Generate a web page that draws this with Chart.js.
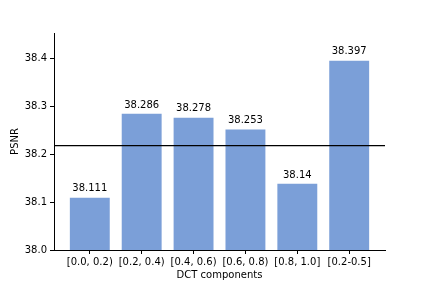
<!DOCTYPE html>
<html>
<head>
<meta charset="utf-8">
<script src="https://cdn.jsdelivr.net/npm/chart.js@4/dist/chart.umd.min.js"></script>
<style>
html,body{margin:0;padding:0;background:#fff;}
#wrap{width:428px;height:286px;}
</style>
</head>
<body>
<div id="wrap"><canvas id="c" width="428" height="286"></canvas></div>
<script>
const categories = ["[0.0, 0.2)", "[0.2, 0.4)", "[0.4, 0.6)", "[0.6, 0.8)", "[0.8, 1.0]", "[0.2-0.5]"];
const psnrValues = [38.111, 38.286, 38.278, 38.253, 38.14, 38.397];
const valueLabels = ["38.111", "38.286", "38.278", "38.253", "38.14", "38.397"];
const baselineValue = 38.218;
const yTicks = [38.0, 38.1, 38.2, 38.3, 38.4];
const xTitle = "DCT components";
const yTitle = "PSNR";

const FONT = "'DejaVu Sans', sans-serif";
const FS = 10;

const overlay = {
  id: 'overlay',
  afterDatasetsDraw(chart) {
    const ctx = chart.ctx;
    const ys = chart.scales.y, area = chart.chartArea;
    const yp = ys.getPixelForValue(baselineValue);
    ctx.save();
    ctx.strokeStyle = '#000';
    ctx.lineWidth = 1.3;
    ctx.beginPath();
    ctx.moveTo(area.left, yp);
    ctx.lineTo(area.right, yp);
    ctx.stroke();
    const meta = chart.getDatasetMeta(0);
    ctx.fillStyle = '#000';
    ctx.font = FS + "px " + FONT;
    ctx.textAlign = 'center';
    ctx.textBaseline = 'bottom';
    meta.data.forEach((bar, i) => {
      ctx.fillText(valueLabels[i], bar.x, bar.y - 3);
    });
    ctx.textBaseline = 'middle';
    ctx.fillText(xTitle, (area.left + area.right) / 2, 275);
    ctx.translate(15, (area.top + area.bottom) / 2);
    ctx.rotate(-Math.PI / 2);
    ctx.fillText(yTitle, 0, 0);
    ctx.restore();
  }
};

new Chart(document.getElementById('c'), {
  type: 'bar',
  data: {
    datasets: [{
      data: psnrValues.map((v, i) => ({x: i, y: v})),
      backgroundColor: 'rgb(123,159,216)',
      borderColor: 'rgba(255,255,255,0.35)',
      borderWidth: 0.8,
      barPercentage: 0.8,
      categoryPercentage: 1.0
    }]
  },
  options: {
    responsive: false,
    animation: false,
    devicePixelRatio: 1,
    layout: { padding: { left: 0, right: 43, top: 33, bottom: 0 } },
    plugins: { legend: { display: false }, tooltip: { enabled: false } },
    scales: {
      x: {
        type: 'linear',
        offset: false,
        min: -0.69, max: 5.69,
        afterBuildTicks(s) { s.ticks = categories.map((c, i) => ({ value: i })); },
        afterFit(s) { s.height = 36; },
        ticks: {
          callback: (v) => categories[v],
          color: '#000',
          font: { family: FONT, size: FS },
          padding: 2,
          maxRotation: 0,
          autoSkip: false
        },
        grid: { display: true, offset: false, drawOnChartArea: false, drawTicks: true, tickLength: 4, color: '#000', lineWidth: 1 },
        border: { display: true, color: '#000', width: 1 }
      },
      y: {
        min: 38.0, max: 38.453,
        afterBuildTicks(s) { s.ticks = yTicks.map(v => ({ value: v })); },
        afterFit(s) { s.width = 54; },
        ticks: {
          callback: (v) => v.toFixed(1),
          color: '#000',
          font: { family: FONT, size: FS },
          padding: 3
        },
        grid: { display: true, drawOnChartArea: false, drawTicks: true, tickLength: 4, color: '#000', lineWidth: 1 },
        border: { display: true, color: '#000', width: 1 }
      }
    }
  },
  plugins: [overlay]
});
</script>
</body>
</html>
